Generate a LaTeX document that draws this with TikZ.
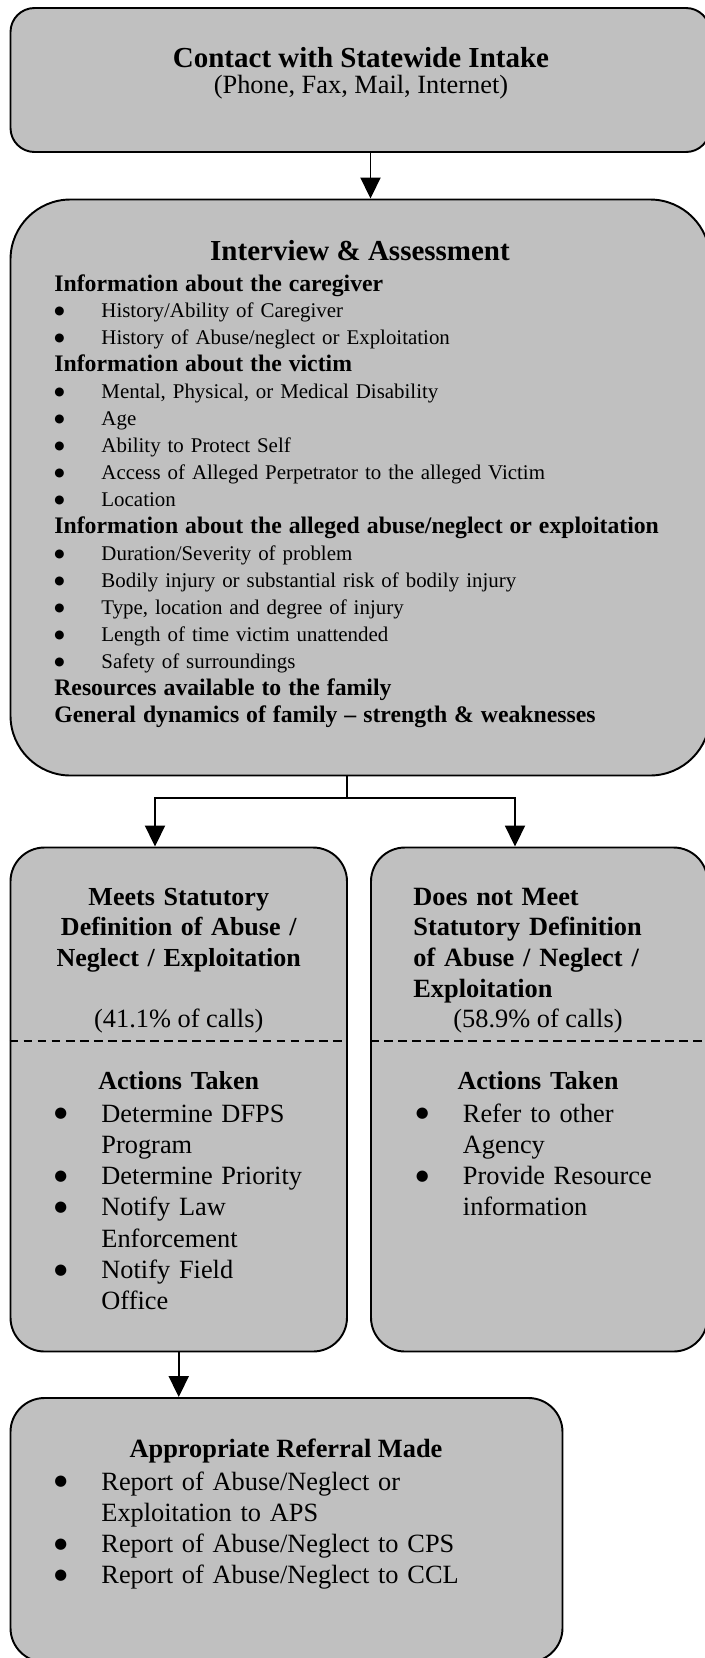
\documentclass[tikz,border=0pt]{standalone}
\usepackage{fontspec}
\setmainfont{Liberation Serif}
\newfontfamily\symfont{DejaVu Sans}
\usetikzlibrary{arrows.meta}

\definecolor{boxgray}{RGB}{192,192,192}

% bullet line and its continuation line
\makeatletter
\newcommand{\dotb}{\raisebox{0.16em}{\symfont\fontsize{\strip@pt\dimexpr0.56\dimexpr\f@size pt\relax\relax}{0}\selectfont ●}}
\makeatother
\newcommand{\bitem}[1]{\makebox[26.8pt][l]{\dotb}#1}
\newcommand{\bcont}[1]{\hspace*{26.8pt}#1}
\newcommand{\hd}[1]{{\fontsize{13.5}{15.35}\selectfont\bfseries #1}}

\begin{document}
\begin{tikzpicture}[
  box/.style={
    draw, line width=1.1pt, fill=boxgray, inner sep=0pt,
    rounded corners=#1
  },
  box/.default=0.68cm,
  title/.style={
    font=\fontsize{16.5}{19}\selectfont\bfseries, anchor=base, inner sep=0pt
  },
  head/.style={
    font=\fontsize{14.8}{17.6}\selectfont\bfseries, anchor=base, inner sep=0pt,
    text width=6.3cm, align=center
  },
  sub/.style={
    font=\fontsize{15}{17.6}\selectfont, anchor=base, inner sep=0pt
  },
  list/.style={
    font=\fontsize{15}{17.8}\selectfont, anchor=base west, inner sep=0pt,
    text width=#1, align=left
  },
  line/.style={line width=1.1pt},
  arrow/.style={line width=1.1pt, -{Triangle[length=0.42cm, width=0.4cm]}},
  divider/.style={line width=0.75pt, dash pattern=on 5pt off 3pt},
]
\useasboundingbox (0,0) rectangle (14.08,-33.16);

% Boxes
\node[box=0.48cm, minimum width=13.99cm, minimum height=2.88cm] (contact) at (7.205,-1.6) {};
\node[box=1.2cm, minimum width=13.99cm, minimum height=11.52cm] (assess) at (7.205,-9.75) {};
\node[box, minimum width=6.73cm, minimum height=10.08cm] (meets) at (3.575,-21.99) {};
\node[box, minimum width=6.73cm, minimum height=10.08cm] (notmeets) at (10.785,-21.99) {};
\node[box, minimum width=11.04cm, minimum height=5.28cm] (referral) at (5.73,-30.6) {};

% Contact with Statewide Intake
\node[title] (contacttitle) at (7.22,-1.34) {Contact with Statewide Intake};
\node[sub] (contactsub) at (7.22,-1.86) {(Phone, Fax, Mail, Internet)};

% Interview & Assessment
\node[title] (assesstitle) at (7.2,-5.2) {Interview \& Assessment};
\node[list=12.8cm, font=\fontsize{11.9}{15.35}\selectfont] (assesslist) at (1.08,-5.82) {%
  \hd{Information about the caregiver}\\
  \bitem{History/Ability of Caregiver}\\
  \bitem{History of Abuse/neglect or Exploitation}\\
  \hd{Information about the victim}\\
  \bitem{Mental, Physical, or Medical Disability}\\
  \bitem{Age}\\
  \bitem{Ability to Protect Self}\\
  \bitem{Access of Alleged Perpetrator to the alleged Victim}\\
  \bitem{Location}\\
  \hd{Information about the alleged abuse/neglect or exploitation}\\
  \bitem{Duration/Severity of problem}\\
  \bitem{Bodily injury or substantial risk of bodily injury}\\
  \bitem{Type, location and degree of injury}\\
  \bitem{Length of time victim unattended}\\
  \bitem{Safety of surroundings}\\
  \hd{Resources available to the family}\\
  \hd{General dynamics of family -- strength \& weaknesses}%
};

% Meets definition
\node[head] (meetstitle) at (3.575,-18.1) {Meets Statutory\\Definition of Abuse /\\Neglect / Exploitation};
\node[sub] (meetscalls) at (3.575,-20.55) {(41.1\% of calls)};
\node[head] (meetsact) at (3.575,-21.79) {Actions Taken};
\node[list=5.6cm] (meetslist) at (1.08,-22.44) {%
  \bitem{Determine DFPS}\\
  \bcont{Program}\\
  \bitem{Determine Priority}\\
  \bitem{Notify Law}\\
  \bcont{Enforcement}\\
  \bitem{Notify Field}\\
  \bcont{Office}%
};

% Does not meet definition
\node[list=5.8cm, font=\fontsize{15}{17.6}\selectfont\bfseries] (notmeetstitle) at (8.26,-18.1) {%
  Does not Meet\\Statutory Definition\\of Abuse / Neglect /\\Exploitation};
\node[sub] (notmeetscalls) at (10.76,-20.55) {(58.9\% of calls)};
\node[head] (notmeetsact) at (10.76,-21.79) {Actions Taken};
\node[list=5.6cm] (notmeetslist) at (8.31,-22.44) {%
  \bitem{Refer to other}\\
  \bcont{Agency}\\
  \bitem{Provide Resource}\\
  \bcont{information}%
};

% dashed dividers
\coordinate (cut) at (0,-20.82);
\draw[divider] (meets.west |- cut) -- (meets.east |- cut);
\draw[divider] (notmeets.west |- cut) -- (notmeets.east |- cut);

% Appropriate Referral Made
\node[sub, font=\fontsize{15}{17.6}\selectfont\bfseries] (referraltitle) at (5.72,-29.14) {Appropriate Referral Made};
\node[list=10cm] (referrallist) at (1.08,-29.8) {%
  \bitem{Report of Abuse/Neglect or}\\
  \bcont{Exploitation to APS}\\
  \bitem{Report of Abuse/Neglect to CPS}\\
  \bitem{Report of Abuse/Neglect to CCL}%
};

% Connectors
\coordinate (drop) at (7.41,0);
\coordinate (split) at (6.94,-15.96);
\coordinate (lefttap) at (3.1,-15.96);
\coordinate (righttap) at (10.3,-15.96);

\draw[arrow] (contact.south -| drop) -- (assess.north -| drop);
\draw[line] (assess.south -| split) -- (split);
\draw[arrow] (split) -- (lefttap) -- (meets.north -| lefttap);
\draw[arrow] (split) -- (righttap) -- (notmeets.north -| righttap);
\draw[arrow] (meets.south) -- (referral.north -| meets.south);

\end{tikzpicture}
\end{document}
